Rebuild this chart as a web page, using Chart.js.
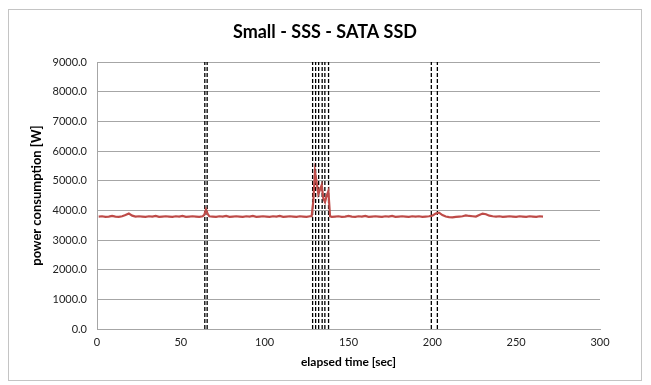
<!DOCTYPE html>
<html>
<head>
<meta charset="utf-8">
<script src="https://cdn.jsdelivr.net/npm/chart.js@4.4.1/dist/chart.umd.min.js"></script>
<style>
  body { margin: 0; background: #fff; }
  #frame { position: absolute; left: 8px; top: 9px; width: 632px; height: 370px; border: 1px solid #c4c4c4; background: #fff; }
</style>
</head>
<body>
<div id="frame"><canvas id="mychart" width="632" height="370"></canvas></div>
<script>
// elapsed time [sec] of each sample
const elapsedSec = [
  1, 3, 5, 7, 9, 11, 13, 15,
  17, 19, 21, 23, 25, 27, 29, 31,
  33, 35, 37, 39, 41, 43, 45, 47,
  49, 51, 53, 55, 57, 59, 61, 63,
  64, 65, 66,
  67, 69, 71, 73, 75, 77, 79, 81,
  83, 85, 87, 89, 91, 93, 95, 97,
  99, 101, 103, 105, 107, 109, 111, 113,
  115, 117, 119, 121, 123, 125, 127,
  128, 129, 130, 131, 132, 133, 134, 135, 136, 137, 138, 139, 140,
  142, 144, 146, 148, 150, 152, 154, 156,
  158, 160, 162, 164, 166, 168, 170, 172,
  174, 176, 178, 180, 182, 184, 186, 188,
  190, 192, 194, 196, 198, 200, 202, 204,
  206, 208, 210, 212, 214, 216, 218, 220,
  222, 224, 226, 228, 230, 232, 234, 236,
  238, 240, 242, 244, 246, 248, 250, 252,
  254, 256, 258, 260, 262, 264, 266
];

// power consumption [W]
const powerW = [
  3790, 3800, 3780, 3790, 3810, 3790, 3780, 3800,
  3840, 3890, 3820, 3790, 3800, 3790, 3780, 3800,
  3790, 3810, 3780, 3790, 3800, 3790, 3780, 3800,
  3790, 3810, 3780, 3790, 3800, 3790, 3780, 3800,
  3850, 4030, 3880,
  3800, 3790, 3780, 3800, 3790, 3810, 3780, 3790,
  3800, 3790, 3780, 3800, 3790, 3810, 3780, 3790,
  3800, 3790, 3780, 3800, 3790, 3810, 3780, 3790,
  3800, 3790, 3780, 3800, 3790, 3780, 3800,
  3800, 4300, 5300, 4950, 4550, 4700, 4850, 4400, 4280, 4500, 4650, 3800, 3780,
  3790, 3800, 3780, 3790, 3810, 3790, 3780, 3800,
  3790, 3810, 3780, 3790, 3800, 3790, 3780, 3800,
  3790, 3810, 3780, 3790, 3800, 3790, 3780, 3800,
  3790, 3800, 3780, 3790, 3800, 3820, 3890, 3920,
  3840, 3790, 3770, 3760, 3780, 3790, 3800, 3830,
  3810, 3800, 3790, 3840, 3890, 3870, 3820, 3800,
  3790, 3800, 3780, 3790, 3800, 3790, 3780, 3800,
  3790, 3780, 3800, 3790, 3780, 3800, 3790
];

// times of the dashed event markers [sec]
const eventSec = [64.3, 65.7, 128.6, 130.4, 132.2, 134.3, 135.9, 138.1, 199.4, 203.0];

const yTicks = [0, 1000, 2000, 3000, 4000, 5000, 6000, 7000, 8000, 9000];
const xTicks = [0, 50, 100, 150, 200, 250, 300];

const fontFamily = 'Lato, "Open Sans", sans-serif';
const axisGray = '#a6a6a6';

const datasets = [{
  label: 'power',
  data: elapsedSec.map((t, i) => ({ x: t, y: powerW[i] })),
  borderColor: '#be4b48',
  borderWidth: 2.2,
  pointRadius: 0,
  tension: 0,
  order: 0
}];

eventSec.forEach(t => {
  datasets.push({
    label: 'event',
    data: [{ x: t, y: yTicks[0] }, { x: t, y: yTicks[yTicks.length - 1] }],
    borderColor: '#000',
    borderWidth: 1.3,
    borderDash: [4, 2],
    pointRadius: 0,
    order: 1
  });
});

const ctx = document.getElementById('mychart');

new Chart(ctx, {
  type: 'line',
  data: { datasets: datasets },
  options: {
    responsive: false,
    animation: false,
    layout: { padding: { left: 0, right: 0, top: 0, bottom: 6 } },
    plugins: {
      legend: { display: false },
      tooltip: { enabled: false },
      title: {
        display: true,
        text: 'Small - SSS - SATA SSD',
        color: '#000',
        font: { family: fontFamily, size: 18, weight: 'bold' },
        padding: { top: 11, bottom: 19.4 }
      }
    },
    scales: {
      x: {
        type: 'linear',
        min: xTicks[0],
        max: xTicks[xTicks.length - 1],
        afterBuildTicks: s => { s.ticks = xTicks.map(v => ({ value: v })); },
        afterFit: s => { s.height = 45; },
        grid: { display: false, drawTicks: false },
        border: { display: true, color: axisGray, width: 1 },
        ticks: {
          color: '#222',
          padding: 7,
          maxRotation: 0,
          font: { family: fontFamily, size: 11 }
        },
        title: {
          display: true,
          text: 'elapsed time [sec]',
          color: '#000',
          font: { family: fontFamily, size: 12, weight: 'bold' },
          padding: { top: 0, bottom: 5 }
        }
      },
      y: {
        min: yTicks[0],
        max: yTicks[yTicks.length - 1],
        afterBuildTicks: s => { s.ticks = yTicks.map(v => ({ value: v })); },
        afterFit: s => { s.width = 88; },
        grid: { color: axisGray, lineWidth: 1, drawTicks: false },
        border: { display: true, color: axisGray, width: 1 },
        ticks: {
          color: '#222',
          padding: 10,
          font: { family: fontFamily, size: 11 },
          callback: v => v.toFixed(1)
        },
        title: {
          display: true,
          text: 'power consumption [W]',
          color: '#000',
          font: { family: fontFamily, size: 13, weight: 'bold' },
          padding: { top: 20, bottom: 0 }
        }
      },
      // empty right-hand strip so the plot ends where the reference does
      spacer: {
        position: 'right',
        display: true,
        afterFit: s => { s.width = 41; },
        grid: { display: false, drawTicks: false },
        border: { display: false },
        ticks: { display: false }
      }
    }
  }
});
</script>
</body>
</html>
